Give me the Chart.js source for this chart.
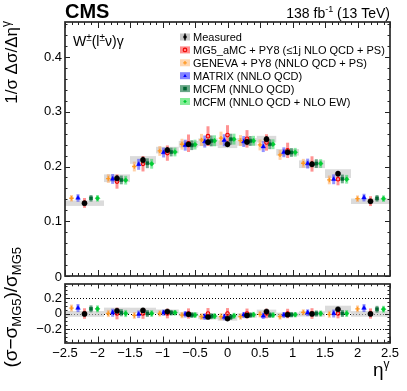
<!DOCTYPE html>
<html><head><meta charset="utf-8">
<script src="https://cdn.jsdelivr.net/npm/chart.js@4/dist/chart.umd.min.js"></script>
<style>
html,body{margin:0;padding:0;background:#fff;}
#wrap{position:relative;width:407px;height:391px;overflow:hidden;background:#fff;}
canvas{position:absolute;left:0;top:0;background:transparent;}
#zeroLbl{position:absolute;z-index:10;font:13px "Liberation Sans", Arial, Helvetica, sans-serif;line-height:15px;color:#000;text-align:right;white-space:nowrap;}
</style></head><body>
<div id="wrap">
<canvas id="c2" width="407" height="391"></canvas>
<canvas id="c1" width="407" height="391"></canvas>
<span id="zeroLbl"></span>
</div>
<script>
// ---------------- data ----------------
const binEdges = [-2.5, -1.9, -1.5, -1.1, -0.75, -0.45, -0.15, 0.15, 0.45, 0.75, 1.1, 1.5, 1.9, 2.5];
const mainYTicks = [0, 0.1, 0.2, 0.3, 0.4];
const ratioYTicks = [-0.2, 0, 0.2];
const xTicks = [-2.5, -2, -1.5, -1, -0.5, 0, 0.5, 1, 1.5, 2, 2.5];

const measured     = [0.133, 0.1786, 0.212, 0.230, 0.2407, 0.2444, 0.2407, 0.245, 0.250, 0.226, 0.2042, 0.187, 0.1365];
const measuredStat = [0.004, 0.005, 0.006, 0.005, 0.005, 0.005, 0.005, 0.005, 0.005, 0.005, 0.005, 0.005, 0.004];
const measuredSyst = [0.005, 0.007, 0.007, 0.006, 0.006, 0.007, 0.007, 0.007, 0.006, 0.006, 0.007, 0.008, 0.005];

const mg5       = [0.1335, 0.1725, 0.205, 0.2245, 0.2425, 0.2555, 0.2575, 0.2505, 0.244, 0.2295, 0.2047, 0.1767, 0.1368];
const mg5Err    = [0.009, 0.013, 0.014, 0.014, 0.016, 0.018, 0.018, 0.016, 0.015, 0.014, 0.014, 0.011, 0.009];
const geneva    = [0.142, 0.178, 0.200, 0.2285, 0.2407, 0.2486, 0.2517, 0.2474, 0.2395, 0.2212, 0.206, 0.1755, 0.1413];
const genevaErr = [0.006, 0.008, 0.009, 0.009, 0.010, 0.011, 0.012, 0.010, 0.010, 0.009, 0.008, 0.008, 0.006];
const matrix    = [0.1425, 0.1773, 0.204, 0.2256, 0.239, 0.2456, 0.248, 0.2456, 0.2364, 0.226, 0.2054, 0.1767, 0.1432];
const matrixErr = [0.007, 0.009, 0.010, 0.009, 0.010, 0.011, 0.011, 0.010, 0.010, 0.009, 0.009, 0.009, 0.007];
const mcfm      = [0.1419, 0.1755, 0.206, 0.2265, 0.239, 0.2468, 0.2499, 0.2468, 0.2407, 0.2257, 0.2054, 0.1773, 0.1419];
const mcfmErr   = [0.006, 0.008, 0.009, 0.008, 0.009, 0.010, 0.010, 0.009, 0.009, 0.008, 0.008, 0.008, 0.006];
const mcfmEw    = [0.1419, 0.175, 0.205, 0.2265, 0.240, 0.247, 0.250, 0.247, 0.2407, 0.226, 0.2054, 0.1767, 0.1413];
const mcfmEwErr = [0.006, 0.008, 0.009, 0.008, 0.009, 0.010, 0.010, 0.009, 0.009, 0.008, 0.008, 0.008, 0.006];

// ratio panel values (sigma - sigma_MG5)/sigma_MG5
const ratioMeasured = [-0.005, 0.035, 0.04, 0.025, -0.01, -0.045, -0.065, -0.025, 0.025, -0.015, -0.005, 0.055, -0.005];
const ratioMg5      = [0, 0, 0, 0, 0, 0, 0, 0, 0, 0, 0, 0, 0];
const ratioGeneva   = [0.07, 0.0, -0.025, 0.0, -0.02, -0.04, -0.04, -0.04, -0.01, -0.04, 0.015, -0.01, 0.06];
const ratioMatrix   = [0.07, 0.01, -0.01, 0.01, -0.01, -0.04, -0.045, -0.02, -0.03, -0.02, 0.01, 0.0, 0.07];
const ratioMcfm     = [0.06, 0.01, 0.0, 0.01, -0.02, -0.035, -0.045, -0.02, -0.02, -0.015, 0.0, 0.0, 0.055];
const ratioMcfmEw   = [0.06, 0.0, 0.0, 0.01, -0.02, -0.035, -0.03, -0.015, -0.02, -0.015, 0.0, 0.0, 0.055];

const seriesLabels = ['Measured', 'MG5_aMC + PY8 (\u22641j NLO QCD + PS)', 'GENEVA + PY8 (NNLO QCD + PS)',
  'MATRIX (NNLO QCD)', 'MCFM (NNLO QCD)', 'MCFM (NNLO QCD + NLO EW)'];

// ---------------- styling ----------------
const FONT = '"Liberation Sans", Arial, Helvetica, sans-serif';
Chart.defaults.font.family = FONT;
const styles = [
  {k: 0,  marker: 'circle',   mcol: '#000000', fill: true,  r: 2.6, bar: '#000000', barW: 1.6, box: '#c8c8c8'},
  {k: 0,  marker: 'ocircle',  mcol: '#ee0000', fill: false, r: 1.8, bar: 'rgba(255,40,40,0.5)', barW: 3, box: '#ff8c8c'},
  {k: -2, marker: 'cross',    mcol: '#ff9922', fill: true,  r: 2.2, bar: 'rgba(255,150,60,0.45)', barW: 3, box: '#ffd6ae'},
  {k: -1, marker: 'triangle', mcol: '#0000ff', fill: true,  r: 2.6, bar: 'rgba(40,40,255,0.5)', barW: 3, box: '#8484ff'},
  {k: 1,  marker: 'rect',     mcol: '#006633', fill: true,  r: 2.2, bar: 'rgba(0,100,50,0.55)', barW: 3, box: '#6aa888'},
  {k: 2,  marker: 'rectRot',  mcol: '#00cc33', fill: true,  r: 2.4, bar: 'rgba(0,210,60,0.45)', barW: 3, box: '#86ec98'}
];
const mainVals = [measured, mg5, geneva, matrix, mcfm, mcfmEw];
const mainErrs = [measuredStat, mg5Err, genevaErr, matrixErr, mcfmErr, mcfmEwErr];
const ratioVals = [ratioMeasured, ratioMg5, ratioGeneva, ratioMatrix, ratioMcfm, ratioMcfmEw];

const centers = binEdges.slice(0, -1).map((e, i) => (e + binEdges[i + 1]) / 2);
const widths = binEdges.slice(0, -1).map((e, i) => binEdges[i + 1] - e);
function posOf(i, k) { return centers[i] + k * widths[i] / 6; }

function chartPointStyle(s) {
  const map = {circle: 'circle', ocircle: 'circle', cross: 'cross', triangle: 'triangle', rect: 'rect', rectRot: 'rectRot'};
  return map[s.marker];
}
function makeDatasets(valsArr) {
  return valsArr.map((vals, si) => {
    const s = styles[si];
    return {
      label: seriesLabels[si],
      data: vals.map((v, i) => ({x: posOf(i, s.k), y: v})),
      pointStyle: chartPointStyle(s),
      pointRadius: s.r,
      pointHoverRadius: s.r,
      borderColor: s.mcol,
      backgroundColor: s.fill ? s.mcol : 'rgba(0,0,0,0)',
      pointBorderWidth: s.marker === 'cross' ? 1.3 : (s.marker === 'ocircle' ? 1.1 : 0.5),
      showLine: false
    };
  });
}

function drawMarker(ctx, s, x, y) {
  const r = s.r;
  ctx.save();
  ctx.fillStyle = s.mcol; ctx.strokeStyle = s.mcol;
  ctx.beginPath();
  if (s.marker === 'circle') { ctx.arc(x, y, r, 0, 2 * Math.PI); ctx.fill(); }
  else if (s.marker === 'ocircle') { ctx.lineWidth = 1.1; ctx.arc(x, y, r, 0, 2 * Math.PI); ctx.stroke(); }
  else if (s.marker === 'cross') { ctx.lineWidth = 1.3; ctx.moveTo(x - r, y); ctx.lineTo(x + r, y); ctx.moveTo(x, y - r); ctx.lineTo(x, y + r); ctx.stroke(); }
  else if (s.marker === 'triangle') { ctx.moveTo(x, y - r); ctx.lineTo(x + r, y + r * 0.7); ctx.lineTo(x - r, y + r * 0.7); ctx.closePath(); ctx.fill(); }
  else if (s.marker === 'rect') { ctx.rect(x - r, y - r, 2 * r, 2 * r); ctx.fill(); }
  else if (s.marker === 'rectRot') { ctx.moveTo(x, y - r); ctx.lineTo(x + r, y); ctx.lineTo(x, y + r); ctx.lineTo(x - r, y); ctx.closePath(); ctx.fill(); }
  ctx.restore();
}

function drawRich(ctx, x, y, parts, align) {
  let w = 0;
  for (const p of parts) { ctx.font = (p.w || 'normal') + ' ' + p.s + 'px ' + FONT; w += ctx.measureText(p.t).width; }
  let cx = align === 'right' ? x - w : x;
  ctx.textAlign = 'left'; ctx.textBaseline = 'alphabetic';
  for (const p of parts) {
    ctx.font = (p.w || 'normal') + ' ' + p.s + 'px ' + FONT;
    ctx.fillText(p.t, cx, y + (p.dy || 0));
    cx += ctx.measureText(p.t).width;
  }
  return w;
}

function drawFrameTicks(ctx, ch, o) {
  const a = ch.chartArea, xs = ch.scales.x, ys = ch.scales.y;
  ctx.save();
  ctx.strokeStyle = '#222'; ctx.lineWidth = 1;
  ctx.beginPath();
  const nx = Math.round((xs.max - xs.min) / o.xMinor);
  for (let i = 0; i <= nx; i++) {
    const v = xs.min + i * o.xMinor;
    const major = Math.abs(v / o.xMajor - Math.round(v / o.xMajor)) < 1e-6;
    const px = Math.round(xs.getPixelForValue(v)) + 0.5;
    const Lb = major ? o.xMajB : o.xMinB, Lt = major ? o.xMajT : o.xMinT;
    ctx.moveTo(px, a.bottom); ctx.lineTo(px, a.bottom - Lb);
    ctx.moveTo(px, a.top); ctx.lineTo(px, a.top + Lt);
  }
  const y0 = Math.ceil(ys.min / o.yMinor - 1e-6) * o.yMinor;
  for (let v = y0; v <= ys.max + 1e-9; v += o.yMinor) {
    const vv = Math.round(v * 1e6) / 1e6;
    const major = Math.abs(vv / o.yMajor - Math.round(vv / o.yMajor)) < 1e-6;
    const py = Math.round(ys.getPixelForValue(vv)) + 0.5;
    const L = major ? o.yMaj : o.yMin;
    ctx.moveTo(a.left, py); ctx.lineTo(a.left + L, py);
    ctx.moveTo(a.right, py); ctx.lineTo(a.right - L, py);
  }
  ctx.stroke();
  ctx.lineWidth = 1.7; ctx.strokeStyle = '#2a2a2a';
  ctx.strokeRect(a.left, a.top, a.right - a.left, a.bottom - a.top);
  ctx.restore();
}

function drawBarsAndBoxes(ctx, ch, isRatio) {
  const a = ch.chartArea, xs = ch.scales.x, ys = ch.scales.y;
  ctx.save();
  ctx.beginPath(); ctx.rect(a.left, a.top, a.right - a.left, a.bottom - a.top); ctx.clip();
  if (isRatio) {
    ctx.strokeStyle = '#000'; ctx.lineWidth = 1; ctx.setLineDash([1, 2]);
    for (const v of ratioYTicks) {
      const py = Math.round(ys.getPixelForValue(v)) + 0.5;
      ctx.beginPath(); ctx.moveTo(a.left, py); ctx.lineTo(a.right, py); ctx.stroke();
    }
    ctx.setLineDash([]);
  }
  // measured systematic boxes
  ctx.fillStyle = 'rgba(195,195,195,0.6)';
  for (let i = 0; i < centers.length; i++) {
    const yc = isRatio ? ratioMeasured[i] : measured[i];
    const h = isRatio ? measuredSyst[i] / mg5[i] : measuredSyst[i];
    const x1 = xs.getPixelForValue(binEdges[i]), x2 = xs.getPixelForValue(binEdges[i + 1]);
    const y1 = ys.getPixelForValue(yc + h), y2 = ys.getPixelForValue(yc - h);
    ctx.fillRect(x1, y1, x2 - x1, y2 - y1);
  }
  // error bars, measured last
  for (let si = styles.length - 1; si >= 0; si--) {
    const s = styles[si];
    ctx.strokeStyle = s.bar; ctx.lineWidth = s.barW;
    const vals = isRatio ? ratioVals[si] : mainVals[si];
    for (let i = 0; i < vals.length; i++) {
      const e = isRatio ? mainErrs[si][i] / mg5[i] : mainErrs[si][i];
      const px = xs.getPixelForValue(posOf(i, s.k));
      ctx.beginPath();
      ctx.moveTo(px, ys.getPixelForValue(vals[i] - e));
      ctx.lineTo(px, ys.getPixelForValue(vals[i] + e));
      ctx.stroke();
    }
  }
  ctx.restore();
}

const mainPlugin = {
  id: 'mainPlugin',
  beforeDatasetsDraw(ch) { drawBarsAndBoxes(ch.ctx, ch, false); },
  afterDatasetsDraw(ch) {
    const ctx = ch.ctx;
    drawFrameTicks(ctx, ch, {xMinor: 0.1, xMajor: 0.5, xMajB: 6, xMinB: 3, xMajT: 6, xMinT: 3, yMinor: 0.02, yMajor: 0.1, yMaj: 5, yMin: 2.5});
    ctx.save(); ctx.fillStyle = '#000';
    drawRich(ctx, 65, 18, [{t: 'CMS', s: 20, w: 'bold'}]);
    drawRich(ctx, 390, 18, [{t: '138 fb', s: 14}, {t: '-1', s: 9, dy: -6}, {t: ' (13 TeV)', s: 14}], 'right');
    drawRich(ctx, 73, 46, [{t: 'W', s: 14}, {t: '\u00b1', s: 10, dy: -5}, {t: '(l', s: 14}, {t: '\u00b1', s: 10, dy: -5}, {t: '\u03bd)\u03b3', s: 14}]);
    // legend
    for (let i = 0; i < seriesLabels.length; i++) {
      const yc = 37 + i * 12.9;
      const s = styles[i];
      ctx.fillStyle = s.box; ctx.fillRect(180, yc - 3.5, 10, 7);
      if (i === 0) { ctx.strokeStyle = '#000'; ctx.lineWidth = 1.4; ctx.beginPath(); ctx.moveTo(185, yc - 3.5); ctx.lineTo(185, yc + 3.5); ctx.stroke(); }
      drawMarker(ctx, Object.assign({}, s, {r: Math.min(s.r, 1.8)}), 185, yc);
      ctx.fillStyle = '#000';
      drawRich(ctx, 193, yc + 4, [{t: seriesLabels[i], s: 11}]);
    }
    // y title
    ctx.save(); ctx.translate(17, 21); ctx.rotate(-Math.PI / 2);
    drawRich(ctx, 0, 0, [{t: '1/\u03c3 \u0394\u03c3/\u0394\u03b7', s: 17}, {t: '\u03b3', s: 12, dy: -7}], 'right');
    ctx.restore();
    ctx.restore();
  }
};

const ratioPlugin = {
  id: 'ratioPlugin',
  beforeDatasetsDraw(ch) { drawBarsAndBoxes(ch.ctx, ch, true); },
  afterDatasetsDraw(ch) {
    const ctx = ch.ctx;
    drawFrameTicks(ctx, ch, {xMinor: 0.1, xMajor: 0.5, xMajB: 6.5, xMinB: 3.3, xMajT: 4.5, xMinT: 2.3, yMinor: 0.05, yMajor: 0.2, yMaj: 5, yMin: 2.5});
    ctx.save(); ctx.fillStyle = '#000';
    ctx.translate(17, 247); ctx.rotate(-Math.PI / 2);
    drawRich(ctx, 0, 0, [{t: '(\u03c3\u2212\u03c3', s: 19}, {t: 'MG5', s: 13, dy: 4}, {t: ')/\u03c3', s: 19}, {t: 'MG5', s: 13, dy: 4}], 'right');
    ctx.restore();
    ctx.save(); ctx.fillStyle = '#000';
    drawRich(ctx, 373, 376, [{t: '\u03b7', s: 19}, {t: '\u03b3', s: 12, dy: -8}]);
    ctx.restore();
  }
};

function fmtMinus(v) { return String(Math.round(v * 1000) / 1000).replace('-', '\u2212'); }
const setTicks = list => (s => { s.ticks = list.map(v => ({value: v})); });

const mainChart = new Chart(document.getElementById('c1'), {
  type: 'scatter',
  data: {datasets: makeDatasets(mainVals)},
  options: {
    responsive: false, animation: false, devicePixelRatio: 1,
    layout: {padding: {left: 0, right: 17, top: 22, bottom: 115}},
    plugins: {legend: {display: false}, tooltip: {enabled: false}},
    scales: {
      x: {type: 'linear', min: -2.5, max: 2.5, display: false},
      y: {type: 'linear', min: 0, max: 0.464,
          grid: {display: false, drawTicks: false}, border: {display: false},
          afterBuildTicks: setTicks(mainYTicks.slice(1)),
          ticks: {padding: 3, autoSkip: false, color: '#000', font: {size: 13, family: FONT}, callback: fmtMinus},
          afterFit: s => { s.width = 65; }}
    }
  },
  plugins: [mainPlugin]
});

new Chart(document.getElementById('c2'), {
  type: 'scatter',
  data: {datasets: makeDatasets(ratioVals)},
  options: {
    responsive: false, animation: false, devicePixelRatio: 1,
    layout: {padding: {left: 0, right: 17, top: 284, bottom: 0}},
    plugins: {legend: {display: false}, tooltip: {enabled: false}},
    scales: {
      x: {type: 'linear', min: -2.5, max: 2.5,
          grid: {display: false, drawTicks: false}, border: {display: false},
          afterBuildTicks: setTicks(xTicks),
          ticks: {padding: 3, maxRotation: 0, autoSkip: false, color: '#000', font: {size: 13, family: FONT}, callback: fmtMinus},
          afterFit: s => { s.height = 48; }},
      y: {type: 'linear', min: -0.38, max: 0.38,
          grid: {display: false, drawTicks: false}, border: {display: false},
          afterBuildTicks: setTicks(ratioYTicks),
          ticks: {padding: 3, autoSkip: false, color: '#000', font: {size: 13, family: FONT}, callback: fmtMinus},
          afterFit: s => { s.width = 65; }}
    }
  },
  plugins: [ratioPlugin]
});

// zero label of the main y axis as a real text element, placed through the chart's own y scale
(function () {
  const lbl = document.getElementById('zeroLbl');
  lbl.textContent = fmtMinus(mainYTicks[0]);
  const py = mainChart.scales.y.getPixelForValue(mainYTicks[0]);
  const right = mainChart.chartArea.left - 3;
  lbl.style.right = (407 - right) + 'px';
  lbl.style.top = (py - 7.5) + 'px';
})();
</script>
</body></html>
